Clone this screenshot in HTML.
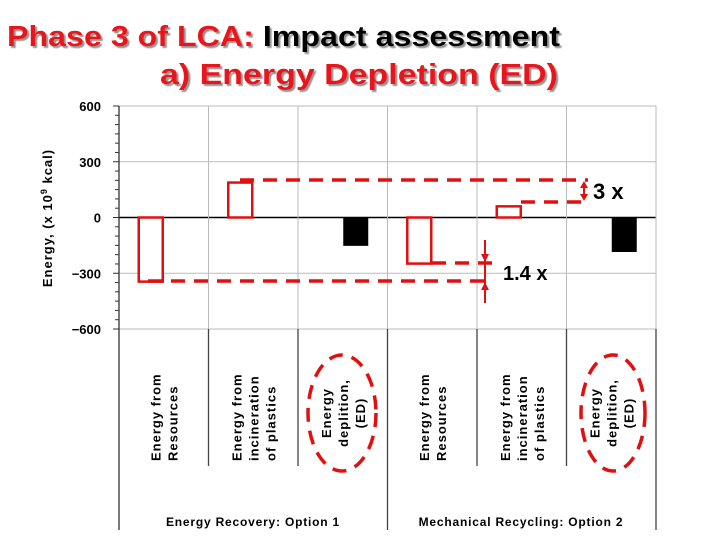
<!DOCTYPE html>
<html><head><meta charset="utf-8"><style>
html,body{margin:0;padding:0;background:#fff;width:720px;height:540px;overflow:hidden}
svg text{font-family:"Liberation Sans",sans-serif}
</style></head><body>
<svg id="chart" width="720" height="540" viewBox="0 0 720 540" xmlns="http://www.w3.org/2000/svg">
<defs>
<filter id="sh" x="-5%" y="-20%" width="110%" height="140%"><feDropShadow dx="2" dy="2" stdDeviation="0.6" flood-color="#888" flood-opacity="0.9"/></filter>
</defs>
<g filter="url(#sh)">
<text x="7" y="46" font-size="29" font-weight="bold" textLength="553" lengthAdjust="spacingAndGlyphs"><tspan fill="#e8121b">Phase 3 of LCA: </tspan><tspan fill="#000">Impact assessment</tspan></text>
<text x="160" y="84" font-size="29" font-weight="bold" fill="#e8121b" textLength="398" lengthAdjust="spacingAndGlyphs">a)  Energy Depletion (ED)</text>
</g>
<g id="grid"></g>
<g id="axis"></g>
<g id="bars"></g>
<g id="xlabels"></g>
<text transform="translate(52,218) rotate(-90)" text-anchor="middle" font-size="13" font-weight="bold" letter-spacing="1">Energy, (x 10<tspan dy="-5" font-size="9">9</tspan><tspan dy="5"> kcal)</tspan></text>
<g stroke="#e01010" stroke-width="3.5" fill="none" stroke-dasharray="14,9">
<line x1="240" y1="180" x2="588" y2="180"/>
<line x1="521" y1="202" x2="588" y2="202"/>
<line x1="148" y1="281" x2="492" y2="281"/>
<line x1="432" y1="263" x2="492" y2="263"/>
<ellipse cx="342" cy="413" rx="34" ry="58"/>
<ellipse cx="613" cy="413" rx="32" ry="58"/>
</g>
<g stroke="#e01010" stroke-width="2" fill="#e01010">
<line x1="584" y1="183" x2="584" y2="199"/>
<polygon points="580,188 588,188 584,181" stroke="none"/>
<polygon points="580,194 588,194 584,201" stroke="none"/>
<line x1="485" y1="240" x2="485" y2="303"/>
<polygon points="481,254 489,254 485,262" stroke="none"/>
<polygon points="481,290 489,290 485,282" stroke="none"/>
</g>
<text x="593" y="199" font-size="22" font-weight="bold">3 x</text>
<text x="503" y="280" font-size="20" font-weight="bold">1.4 x</text>
<text x="253" y="526" text-anchor="middle" font-size="12" font-weight="bold" letter-spacing="0.8">Energy Recovery: Option 1</text>
<text x="521" y="526" text-anchor="middle" font-size="12" font-weight="bold" letter-spacing="0.8">Mechanical Recycling: Option 2</text>
</svg>
<script>
const categories = ["Energy from|Resources","Energy from|incineration|of plastics","Energy|deplition,|(ED)","Energy from|Resources","Energy from|incineration|of plastics","Energy|deplition,|(ED)"];
const values = [-345, 188, -150, -248, 60, -183];
const barKinds = ["outline","outline","solid","outline","outline","solid"];
const yTicks = [600, 300, 0, -300, -600];
const yTickLabels = ["600","300","0","\u2212300","\u2212600"];

const NS = "http://www.w3.org/2000/svg";
const X0 = 119, X1 = 656, YTOP = 106, YBOT = 329;
const colW = (X1 - X0) / categories.length;
function y(v){ return YTOP + (600 - v) / 1200 * (YBOT - YTOP); }
function xc(i){ return X0 + colW * (i + 0.5); }
function mk(tag, attrs, parent){ const e = document.createElementNS(NS, tag); for (const k in attrs) e.setAttribute(k, attrs[k]); parent.appendChild(e); return e; }

const grid = document.getElementById("grid");
yTicks.forEach(t => {
  const l = mk("line", {x1:X0, x2:X1, y1:y(t), y2:y(t), stroke:t===0?"#000":"#bbb", "stroke-width":t===0?1.5:1}, grid);
  
  
});
for (let i = 1; i <= categories.length; i++) {
  const xx = X0 + colW * i;
  const full = (i === 3 || i === 6);
  const l = mk("line", {x1:xx, x2:xx, y1:YTOP, y2:YBOT, stroke:"#bbb", "stroke-width":1}, grid);
  
  
  const l2 = mk("line", {x1:xx, x2:xx, y1:YBOT, y2:full ? 530 : 466, stroke:"#444", "stroke-width":1.3}, grid);
  
  
}
const ax = document.getElementById("axis");
const axl = mk("line", {x1:X0, x2:X0, y1:YTOP, y2:530, stroke:"#333", "stroke-width":1.3}, ax);


for (let v = -600; v <= 600; v += 50) {
  const major = v % 300 === 0;
  const tk = mk("line", {x1:major ? X0 - 6 : X0 - 4, x2:X0, y1:y(v), y2:y(v), stroke:"#333", "stroke-width":1}, ax);
  
  
}
yTicks.forEach((t, i) => {
  const tx = mk("text", {x:101, y:y(t) + 5, "text-anchor":"end", "font-size":13, "font-weight":"bold"}, ax);
  tx.textContent = yTickLabels[i];
  
  
});
const bars = document.getElementById("bars");
values.forEach((v, i) => {
  const top = Math.min(y(0), y(v)), h = Math.abs(y(v) - y(0));
  const solid = barKinds[i] === "solid";
  const off = solid ? 13 : -13;
  const r = mk("rect", {x:xc(i) + off - 12, y:top, width:24, height:h, fill:solid ? "#000" : "#fff", stroke:solid ? "#000" : "#e01010", "stroke-width":solid ? 1 : 2.5}, bars);
  
  
});
const xl = document.getElementById("xlabels");
categories.forEach((c, i) => {
  const lines = c.split("|");
  const n = lines.length;
  const solid = barKinds[i] === "solid";
  lines.forEach((ln, j) => {
    const cx = xc(i) + (j - (n - 1) / 2) * 17 + 5;
    const t = mk("text", {transform:"translate(" + cx + "," + (solid ? 413 : 461) + ") rotate(-90)", "text-anchor":solid ? "middle" : "start", "font-size":13, "font-weight":"bold", "letter-spacing":"1"}, xl);
    t.textContent = ln;
    
    
  });
});
</script>
</body></html>
